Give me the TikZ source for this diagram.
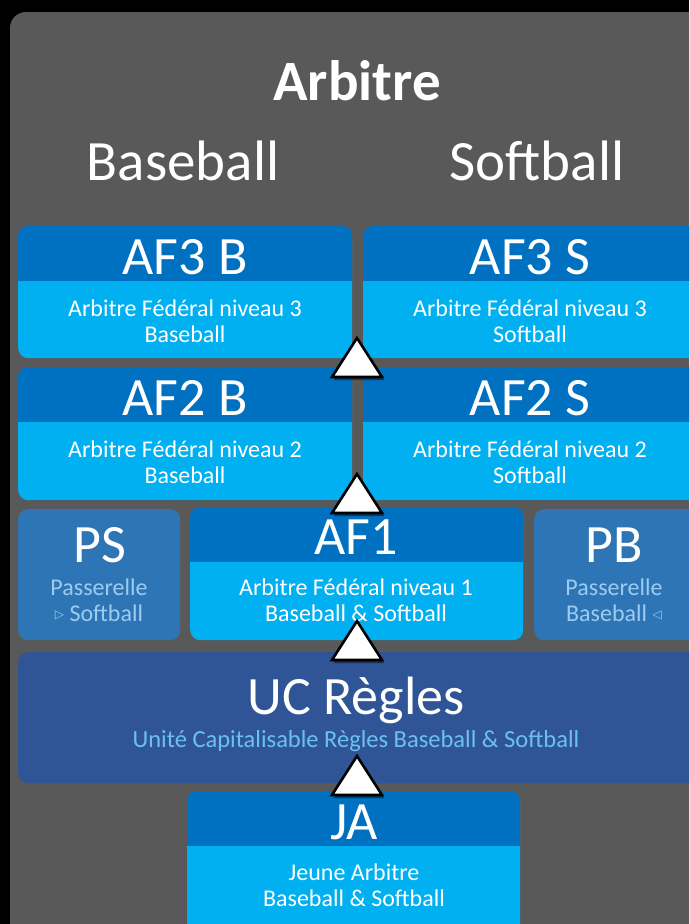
\documentclass[tikz,border=0pt]{standalone}
\usepackage{fontspec}
\setmainfont{Carlito}
\newfontfamily\symfont{DejaVu Sans}
\usetikzlibrary{shadows}
\definecolor{panelgray}{HTML}{595959}
\definecolor{hdark}{HTML}{0070C0}
\definecolor{hlight}{HTML}{00B0F0}
\definecolor{pblue}{HTML}{2E75B6}
\definecolor{ptext}{HTML}{9DCBF0}
\definecolor{ucblue}{HTML}{2F5597}
\definecolor{uctext}{HTML}{6CC0F0}
\tikzset{
  lbox/.style={fill=hlight, rounded corners=10pt, inner sep=0pt, anchor=north west},
  pbox/.style={fill=pblue, rounded corners=10pt, inner sep=0pt, anchor=north west},
  ucbox/.style={fill=ucblue, rounded corners=10pt, inner sep=0pt, anchor=north west},
  head/.style={text=white, font=\fontsize{54}{58}\selectfont, anchor=base, inner sep=0pt},
  body/.style={text=white, font=\fontsize{24}{26}\selectfont, align=center, inner sep=0pt},
  ptxt/.style={text=ptext, font=\fontsize{24}{26}\selectfont, align=center, inner sep=0pt},
  ttl/.style={text=white, font=\fontsize{57}{60}\selectfont, anchor=base, inner sep=0pt},
  tri/.style={fill=white, draw=black, line width=2.6pt, line join=miter,
    drop shadow={opacity=0.45, shadow xshift=2pt, shadow yshift=-3pt, fill=black}},
}
\newcommand\headband[1]{%
  \begin{scope}
    \clip[rounded corners=10pt] (#1.north west) rectangle (#1.south east);
    \fill[hdark] (#1.north west) rectangle ([yshift=-55pt]#1.north east);
  \end{scope}}
\newcommand\smallarrow[1]{\raisebox{2.5pt}{\symfont\fontsize{12}{12}\selectfont #1}}
\begin{document}
\begin{tikzpicture}[x=1pt,y=-1pt]
\useasboundingbox (0,0) rectangle (689,924);
\clip (0,0) rectangle (689,924);
\fill[black] (0,0) rectangle (689,924);
\fill[panelgray, rounded corners=16pt] (10,12) rectangle (740,980);

% titles
\node[ttl, font=\fontsize{57}{60}\selectfont\bfseries] (title) at (357,100) {Arbitre};
\node[ttl] (base) at (183,180) {Baseball};
\node[ttl] (soft) at (537,180) {Softball};

% AF3
\node[lbox, minimum width=334pt, minimum height=132pt] (af3b) at (18,226) {};
\headband{af3b}
\node[lbox, minimum width=340pt, minimum height=132pt] (af3s) at (363,226) {};
\headband{af3s}
\node[head] (af3bh) at (185,274) {AF3 B};
\node[head] (af3sh) at (530,274) {AF3 S};
\node[body] (af3bt) at (185,321) {Arbitre Fédéral niveau 3\\Baseball};
\node[body] (af3st) at (530,321) {Arbitre Fédéral niveau 3\\Softball};

% AF2
\node[lbox, minimum width=334pt, minimum height=133pt] (af2b) at (18,367) {};
\headband{af2b}
\node[lbox, minimum width=340pt, minimum height=133pt] (af2s) at (363,367) {};
\headband{af2s}
\node[head] (af2bh) at (185,415) {AF2 B};
\node[head] (af2sh) at (530,415) {AF2 S};
\node[body] (af2bt) at (185,462) {Arbitre Fédéral niveau 2\\Baseball};
\node[body] (af2st) at (530,462) {Arbitre Fédéral niveau 2\\Softball};

% PS, AF1, PB
\node[pbox, minimum width=162pt, minimum height=131pt] (ps) at (18,509) {};
\node[lbox, minimum width=333pt, minimum height=133pt] (af1) at (190,507) {};
\headband{af1}
\node[pbox, minimum width=170pt, minimum height=131pt] (pb) at (534,509) {};
\node[head] (psh) at (100,562) {PS};
\node[head] (af1h) at (356,554) {AF1};
\node[head] (pbh) at (614,562) {PB};
\node[ptxt] (pst) at (99,600) {Passerelle\\\smallarrow{▷} Softball};
\node[body] (af1t) at (356,600) {Arbitre Fédéral niveau 1\\Baseball \& Softball};
\node[ptxt] (pbt) at (614,600) {Passerelle\\Baseball \smallarrow{◁}};

% UC
\node[ucbox, minimum width=700pt, minimum height=131pt] (uc) at (18,652) {};
\node[head] (uch) at (356,714) {UC Règles};
\node[text=uctext, font=\fontsize{24.5}{26}\selectfont, anchor=base, inner sep=0pt] (uct) at (356,747) {Unité Capitalisable Règles Baseball \& Softball};

% JA
\node[lbox, minimum width=333pt, minimum height=160pt] (ja) at (187,791) {};
\headband{ja}
\node[head] (jah) at (354,839) {JA};
\node[body] (jat) at (354,885) {Jeune Arbitre\\Baseball \& Softball};

% triangles
\draw[tri] (357,338) -- (382,377) -- (332,377) -- cycle;
\draw[tri] (357,474) -- (382,513) -- (332,513) -- cycle;
\draw[tri] (357,621) -- (382,660) -- (332,660) -- cycle;
\draw[tri] (357,756) -- (382,795) -- (332,795) -- cycle;
\end{tikzpicture}
\end{document}
